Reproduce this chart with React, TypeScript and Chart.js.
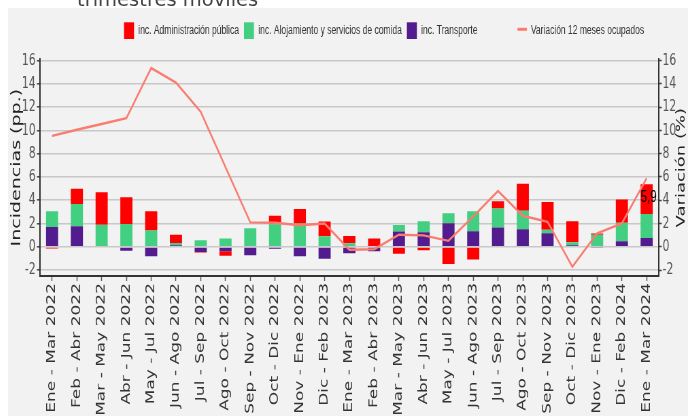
import React, { useEffect, useRef } from "react";
import { Chart, registerables } from "chart.js";

Chart.register(...registerables);

const CATEGORIES = [
  "Ene - Mar 2022", "Feb - Abr 2022", "Mar - May 2022", "Abr - Jun 2022", "May - Jul 2022",
  "Jun - Ago 2022", "Jul - Sep 2022", "Ago - Oct 2022", "Sep - Nov 2022", "Oct - Dic 2022",
  "Nov - Ene 2022", "Dic - Feb 2023", "Ene - Mar 2023", "Feb - Abr 2023", "Mar - May 2023",
  "Abr - Jun 2023", "May - Jul 2023", "Jun - Ago 2023", "Jul - Sep 2023", "Ago - Oct 2023",
  "Sep - Nov 2023", "Oct - Dic 2023", "Nov - Ene 2023", "Dic - Feb 2024", "Ene - Mar 2024",
];

const ADMIN = [
  -0.15, 1.31, 2.8, 2.29, 1.66, 0.71, -0.06, -0.4, 0, 0.74, 1.26, 1.26, 0.63,
  0.63, -0.6, -0.29, -1.46, -1.09, 0.63, 2.31, 2.4, 1.8, 0.11, 2.0, 2.54,
];
const ALOJAMIENTO = [
  1.34, 1.91, 1.89, 1.97, 1.4, 0.2, 0.57, 0.71, 1.6, 1.94, 2.0, 0.91, 0.31,
  0.08, 0.57, 0.94, 0.86, 1.71, 1.63, 1.6, 0.29, 0.26, 1.03, 1.57, 2.06,
];
const TRANSPORTE = [
  1.71, 1.77, 0, -0.34, -0.8, 0.13, -0.43, -0.37, -0.71, -0.17, -0.8, -1.03, -0.55,
  -0.37, 1.31, 1.26, 2.03, 1.34, 1.66, 1.51, 1.17, 0.14, -0.09, 0.49, 0.77,
];
const VARIACION = [
  9.53, 10.05, 10.55, 11.05, 15.35, 14.1, 11.6, 6.85, 2.1, 2.07, 1.85, 2.0, -0.25,
  -0.2, 1.04, 0.99, 0.52, 2.6, 4.8, 2.67, 2.15, -1.71, 1.16, 2.02, 5.9,
];

const Y_TICKS = [-2, 0, 2, 4, 6, 8, 10, 12, 14, 16];
const LEGEND_LABELS = [
  "inc. Administración pública",
  "inc. Alojamiento y servicios de comida",
  "inc. Transporte",
  "Variación 12 meses ocupados",
];
const TITLE = "trimestres móviles";
const Y_TITLE = "Incidencias (pp.)";
const Y1_TITLE = "Variación (%)";
const LAST_LABEL = "5,9";

const RED = "#ff0000";
const GREEN = "#43cf82";
const PURPLE = "#521c8e";
const SALMON = "#f87c70";

const SX = 0.68;
const W = 1000;
const H = 430;

const overlayPlugin = {
  id: "overlay",
  afterDraw(chart: any) {
    const ctx = chart.ctx as CanvasRenderingContext2D;
    const area = chart.chartArea;
    ctx.save();

    // legend
    ctx.font = '12.5px "Liberation Sans", Arial, sans-serif';
    ctx.textBaseline = "middle";
    ctx.textAlign = "left";
    const colors = [RED, GREEN, PURPLE];
    let x = 170.6;
    const cy = 22.6;
    for (let i = 0; i < 3; i++) {
      ctx.fillStyle = colors[i];
      ctx.fillRect(x, 14.3, 14.7, 16.7);
      x += 14.7 + 6.3;
      ctx.fillStyle = "#333";
      ctx.fillText(LEGEND_LABELS[i], x, cy);
      x += ctx.measureText(LEGEND_LABELS[i]).width + 7.4;
    }
    x += 51.4;
    ctx.strokeStyle = SALMON;
    ctx.lineWidth = 3;
    ctx.beginPath();
    ctx.moveTo(x, 21.3);
    ctx.lineTo(x + 13.7, 21.3);
    ctx.stroke();
    x += 13.7 + 5.9;
    ctx.fillStyle = "#333";
    ctx.fillText(LEGEND_LABELS[3], x, cy);

    // axis titles
    const midY = (area.top + area.bottom) / 2;
    ctx.fillStyle = "#222";
    ctx.textAlign = "center";
    ctx.textBaseline = "middle";
    ctx.save();
    ctx.translate(12.8, midY);
    ctx.rotate(-Math.PI / 2);
    ctx.font = '19px "DejaVu Sans", sans-serif';
    ctx.fillText(Y_TITLE, 0, 0);
    ctx.restore();
    ctx.save();
    ctx.translate(990, midY);
    ctx.rotate(-Math.PI / 2);
    ctx.font = '18px "DejaVu Sans", sans-serif';
    ctx.fillText(Y1_TITLE, 0, 0);
    ctx.restore();

    // last value label
    const meta = chart.getDatasetMeta(3);
    const pt = meta.data[meta.data.length - 1];
    if (pt) {
      ctx.fillStyle = "#000";
      ctx.font = '17px "Liberation Sans", Arial, sans-serif';
      ctx.fillText(LAST_LABEL, pt.x + 3, pt.y + 19);
    }
    ctx.restore();
  },
};

function setTicks(scale: any) {
  scale.ticks = Y_TICKS.map((v) => ({ value: v }));
}

export default function App() {
  const canvasRef = useRef<HTMLCanvasElement | null>(null);

  useEffect(() => {
    const canvas = canvasRef.current;
    if (!canvas) return;
    const chart = new Chart(canvas, {
      type: "bar",
      data: {
        labels: CATEGORIES,
        datasets: [
          {
            type: "bar",
            label: LEGEND_LABELS[2],
            data: TRANSPORTE,
            backgroundColor: PURPLE,
            yAxisID: "y",
            order: 2,
            barPercentage: 0.49,
            categoryPercentage: 1,
          },
          {
            type: "bar",
            label: LEGEND_LABELS[1],
            data: ALOJAMIENTO,
            backgroundColor: GREEN,
            yAxisID: "y",
            order: 2,
            barPercentage: 0.49,
            categoryPercentage: 1,
          },
          {
            type: "bar",
            label: LEGEND_LABELS[0],
            data: ADMIN,
            backgroundColor: RED,
            yAxisID: "y",
            order: 2,
            barPercentage: 0.49,
            categoryPercentage: 1,
          },
          {
            type: "line",
            label: LEGEND_LABELS[3],
            data: VARIACION,
            borderColor: SALMON,
            backgroundColor: SALMON,
            borderWidth: 2.4,
            pointRadius: 0,
            tension: 0,
            yAxisID: "y1",
            order: 1,
          } as any,
        ],
      },
      options: {
        responsive: false,
        maintainAspectRatio: false,
        animation: false,
        devicePixelRatio: 1,
        layout: { padding: { top: 51.3, left: 0, right: 0, bottom: 0 } },
        plugins: {
          legend: { display: false },
          tooltip: { enabled: false },
          title: { display: false },
        },
        scales: {
          x: {
            stacked: true,
            offset: true,
            grid: {
              display: true,
              drawOnChartArea: false,
              drawTicks: true,
              offset: false,
              tickLength: 5,
              tickColor: "#555",
              tickWidth: 1.5,
            },
            border: { display: true, color: "#333", width: 2 },
            ticks: {
              autoSkip: false,
              maxRotation: 90,
              minRotation: 90,
              padding: 2,
              color: "#333",
              font: { family: "DejaVu Sans", size: 17 },
            },
            afterFit: (s: any) => {
              s.height = H - 268;
            },
          },
          y: {
            position: "left",
            stacked: true,
            min: -2.5,
            max: 16.1,
            afterBuildTicks: setTicks,
            grid: {
              color: "#c8c8c8",
              lineWidth: 1.6,
              drawTicks: true,
              tickLength: 4,
              tickColor: "#444",
              tickWidth: 1.5,
            },
            border: { display: true, color: "#333", width: 2 },
            ticks: {
              padding: 2,
              color: "#555",
              font: { family: "DejaVu Sans", size: 16 },
            },
            afterFit: (s: any) => {
              s.width = 46.6;
            },
          },
          y1: {
            position: "right",
            stacked: false,
            min: -2.5,
            max: 16.1,
            afterBuildTicks: setTicks,
            grid: {
              drawOnChartArea: false,
              drawTicks: true,
              tickLength: 4,
              tickColor: "#444",
              tickWidth: 1.5,
            },
            border: { display: true, color: "#333", width: 2 },
            ticks: {
              padding: 1,
              color: "#555",
              font: { family: "DejaVu Sans", size: 16 },
            },
            afterFit: (s: any) => {
              s.width = W - 957.4;
            },
          },
        },
      } as any,
      plugins: [overlayPlugin],
    });
    return () => chart.destroy();
  }, []);

  return (
    <div style={{ position: "absolute", left: 0, top: 0, width: 688, height: 416, overflow: "hidden" }}>
      <div
        style={{
          position: "absolute",
          left: 8,
          top: 8,
          width: 680,
          height: 408,
          overflow: "hidden",
          background: "#f2f2f2",
        }}
      >
        <div
          style={{
            width: W,
            height: H,
            transform: `scaleX(${SX})`,
            transformOrigin: "0 0",
          }}
        >
          <canvas
            ref={canvasRef}
            width={W}
            height={H}
            style={{ width: `${W}px`, height: `${H}px`, display: "block" }}
          />
        </div>
      </div>
      <div
        style={{
          position: "absolute",
          left: 77,
          top: -10,
          zIndex: 5,
          fontFamily: '"DejaVu Sans", sans-serif',
          fontSize: "19.5px",
          lineHeight: "20px",
          color: "#444",
          whiteSpace: "nowrap",
        }}
      >
        {TITLE}
      </div>
    </div>
  );
}
